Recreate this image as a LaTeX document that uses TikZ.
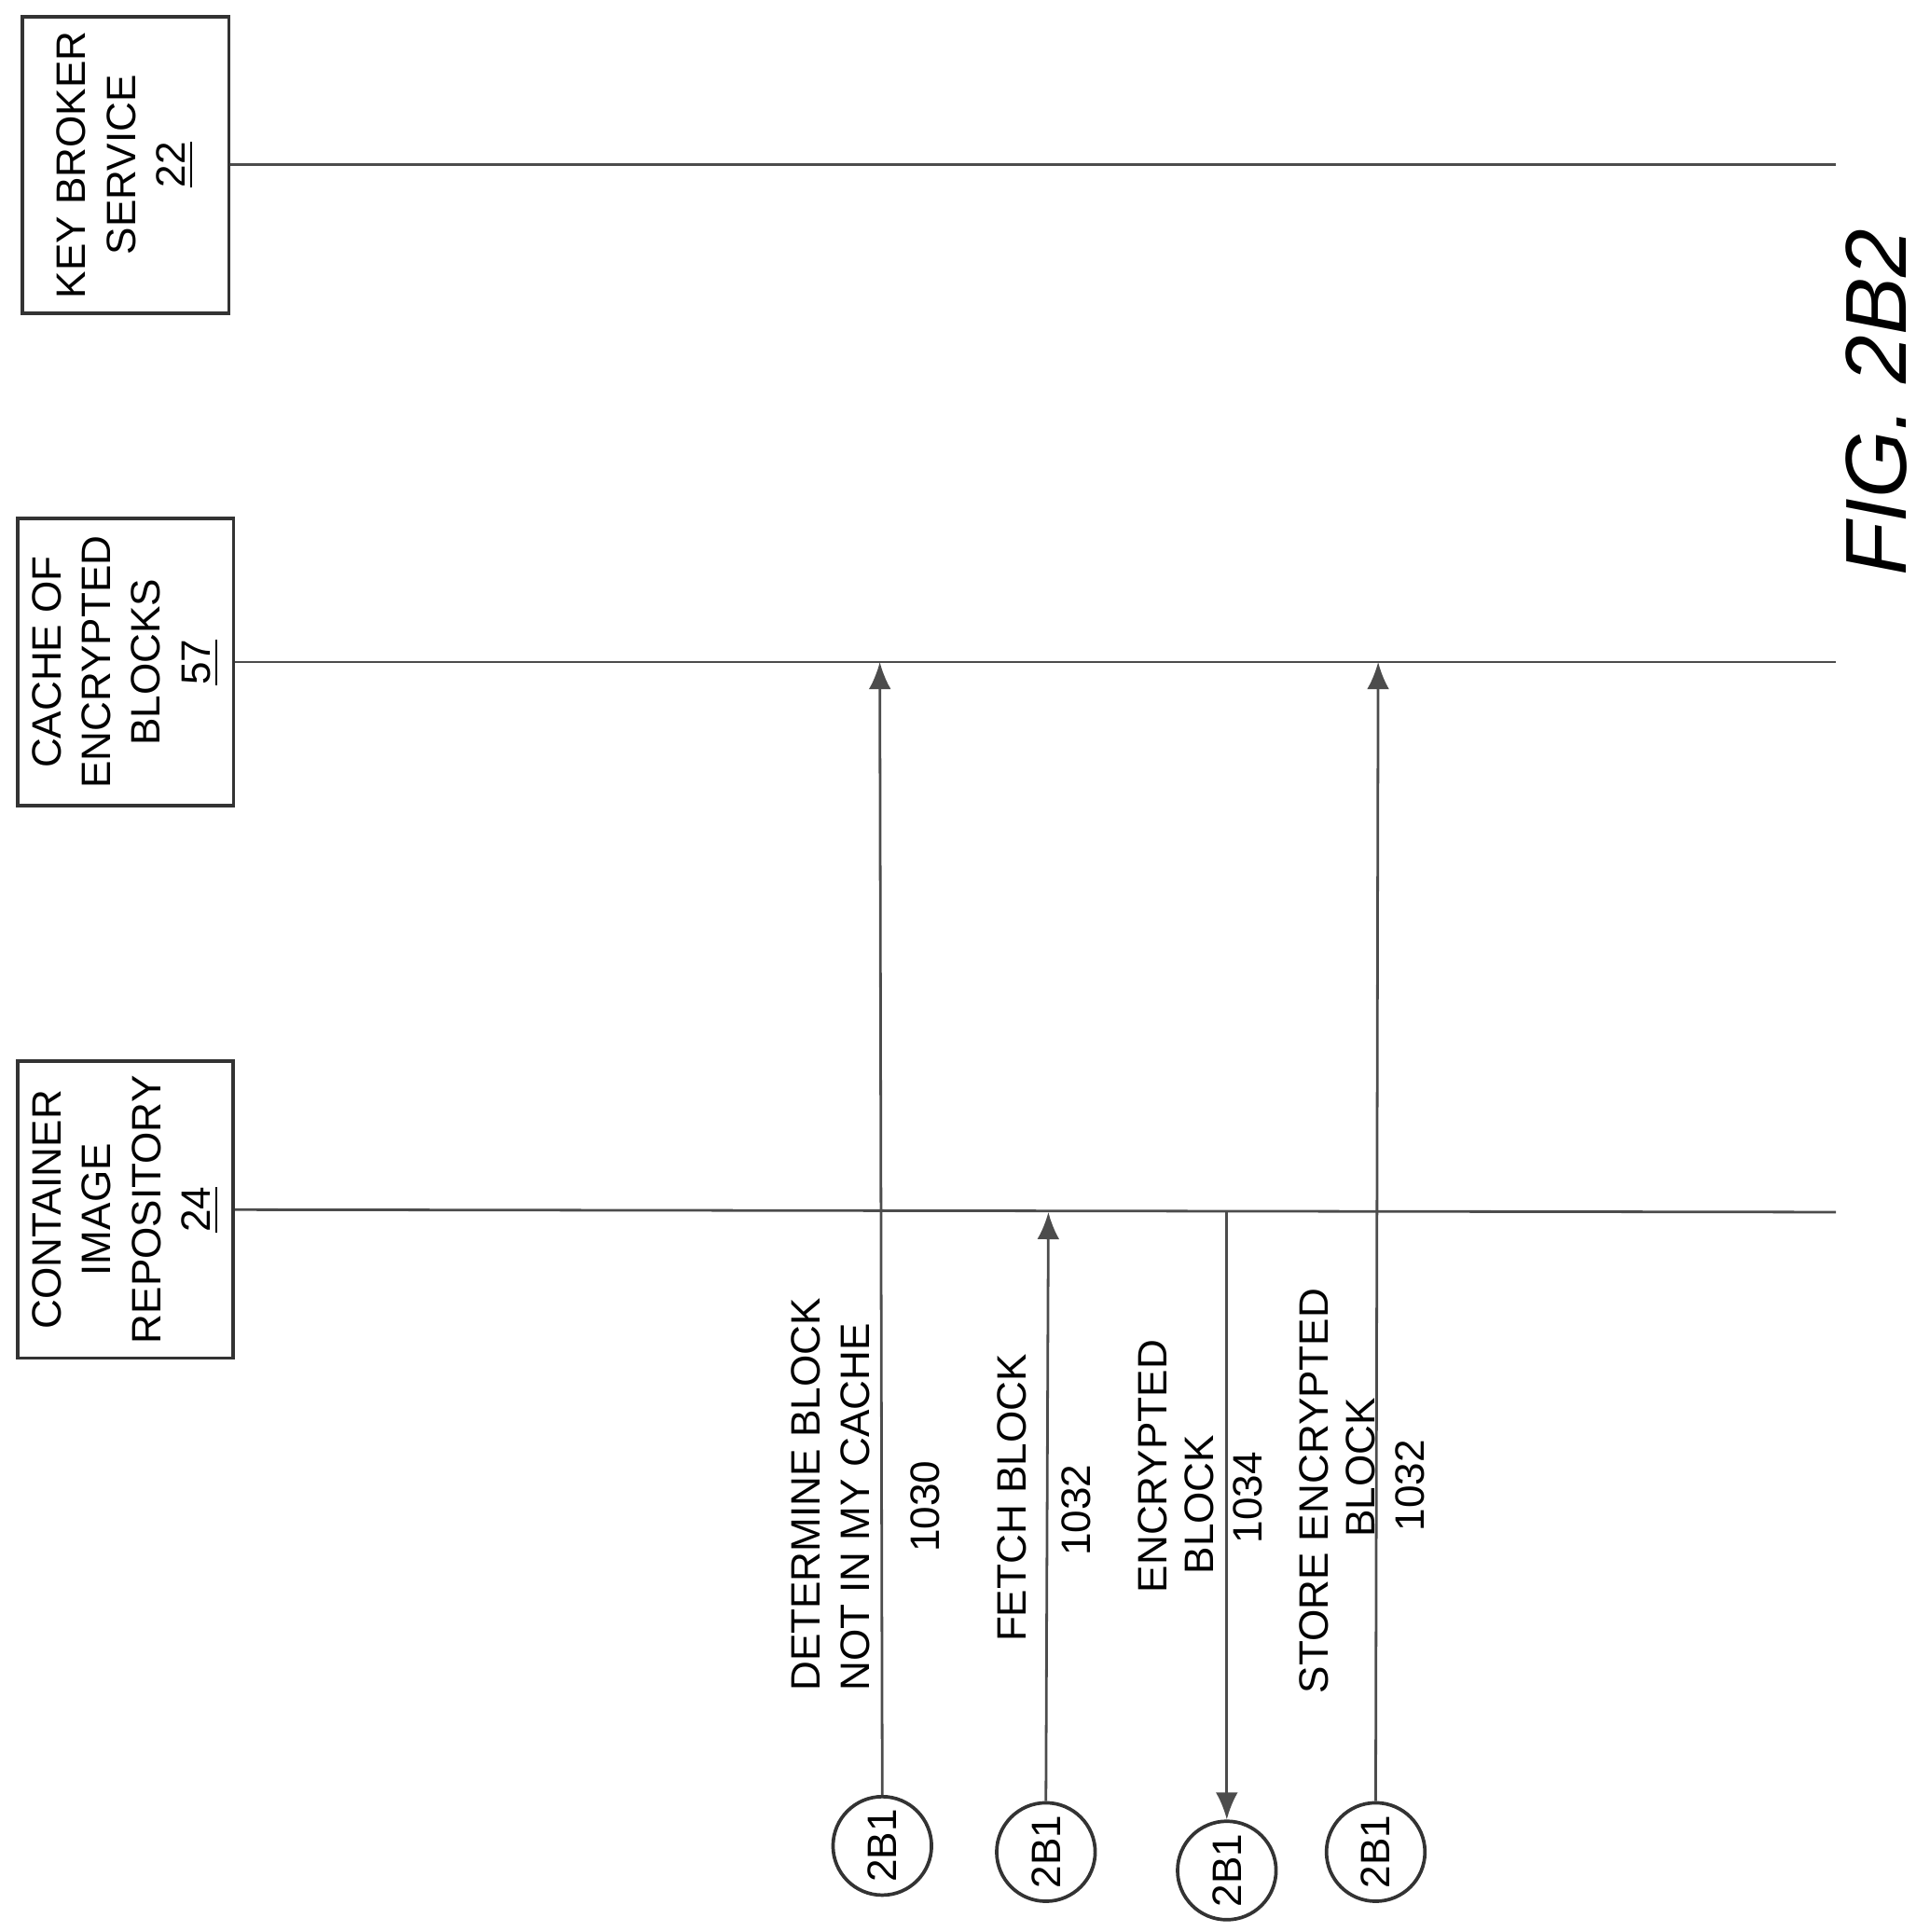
\documentclass[tikz,border=0pt]{standalone}
\usepackage{fontspec}
\setmainfont{Liberation Sans}
\usetikzlibrary{arrows.meta}
\tikzset{
    x=0.01cm, y=-0.01cm,
    >={Latex[length=2.2mm,width=1.8mm]},
    actor/.style={draw, thick, gray!40!black, text=black, minimum width=2.33cm, minimum height=1.68cm, rotate=90, align=center, font=\fontsize{9.5}{11.5}\selectfont},
    life/.style={semithick, gray!60!black},
    msg/.style={semithick, gray!60!black, ->},
    conn/.style={draw, thick, gray!40!black, text=black, circle, minimum size=0.8cm, inner sep=0pt, rotate=90, font=\fontsize{9.5}{11}\selectfont},
    lbl/.style={rotate=90, anchor=west, font=\fontsize{9.5}{11}\selectfont, inner sep=0pt},
}
\begin{document}
\begin{tikzpicture}
    \useasboundingbox (0,0) rectangle (1568,1570);
    % participants
    \node[actor] (kbs) at (102,134) {KEY BROKER\\SERVICE\\\underline{22}};
    \node[actor] (cache) at (102,538) {CACHE OF\\ENCRYPTED\\BLOCKS\\\underline{57}};
    \node[actor] (repo) at (102,983) {CONTAINER\\IMAGE\\REPOSITORY\\\underline{24}};
    % lifelines
    \coordinate (kbsend) at (1492,134);
    \coordinate (cacheend) at (1492,538);
    \coordinate (repoend) at (1492,985);
    \draw[life] (kbs.south) -- (kbsend);
    \draw[life] (cache.south) -- (cacheend);
    \draw[life] (repo.south) -- (repoend);
    % off-page connectors
    \node[conn] (c1) at (717,1500) {2B1};
    \node[conn] (c2) at (850,1505) {2B1};
    \node[conn] (c3) at (997,1520) {2B1};
    \node[conn] (c4) at (1118,1505) {2B1};
    \coordinate (m1) at (715,538);
    \coordinate (m2) at (852,985);
    \coordinate (m3) at (997,985);
    \coordinate (m4) at (1120,538);
    \draw[msg] (c1.east) -- (m1);
    \draw[msg] (c2.east) -- (m2);
    \draw[msg] (m3) -- (c3.east);
    \draw[msg] (c4.east) -- (m4);
    % labels
    \node[lbl] (l1a) at (655,1375) {DETERMINE BLOCK};
    \node[lbl] (l1b) at (695,1375) {NOT IN MY CACHE};
    \node[lbl] (n1) at (752,1262) {1030};
    \node[lbl] (l2) at (822,1335) {FETCH BLOCK};
    \node[lbl] (n2) at (875,1265) {1032};
    \node[lbl] (l3a) at (937,1295) {ENCRYPTED};
    \node[lbl] (l3b) at (975,1280) {BLOCK};
    \node[lbl] (n3) at (1014,1255) {1034};
    \node[lbl] (l4a) at (1068,1377) {STORE ENCRYPTED};
    \node[lbl] (l4b) at (1106,1250) {BLOCK};
    \node[lbl] (n4) at (1146,1245) {1032};
    % figure title
    \node[rotate=90, font=\itshape\fontsize{20}{24}\selectfont] (fig) at (1525,327) {FIG. 2B2};
\end{tikzpicture}
\end{document}
